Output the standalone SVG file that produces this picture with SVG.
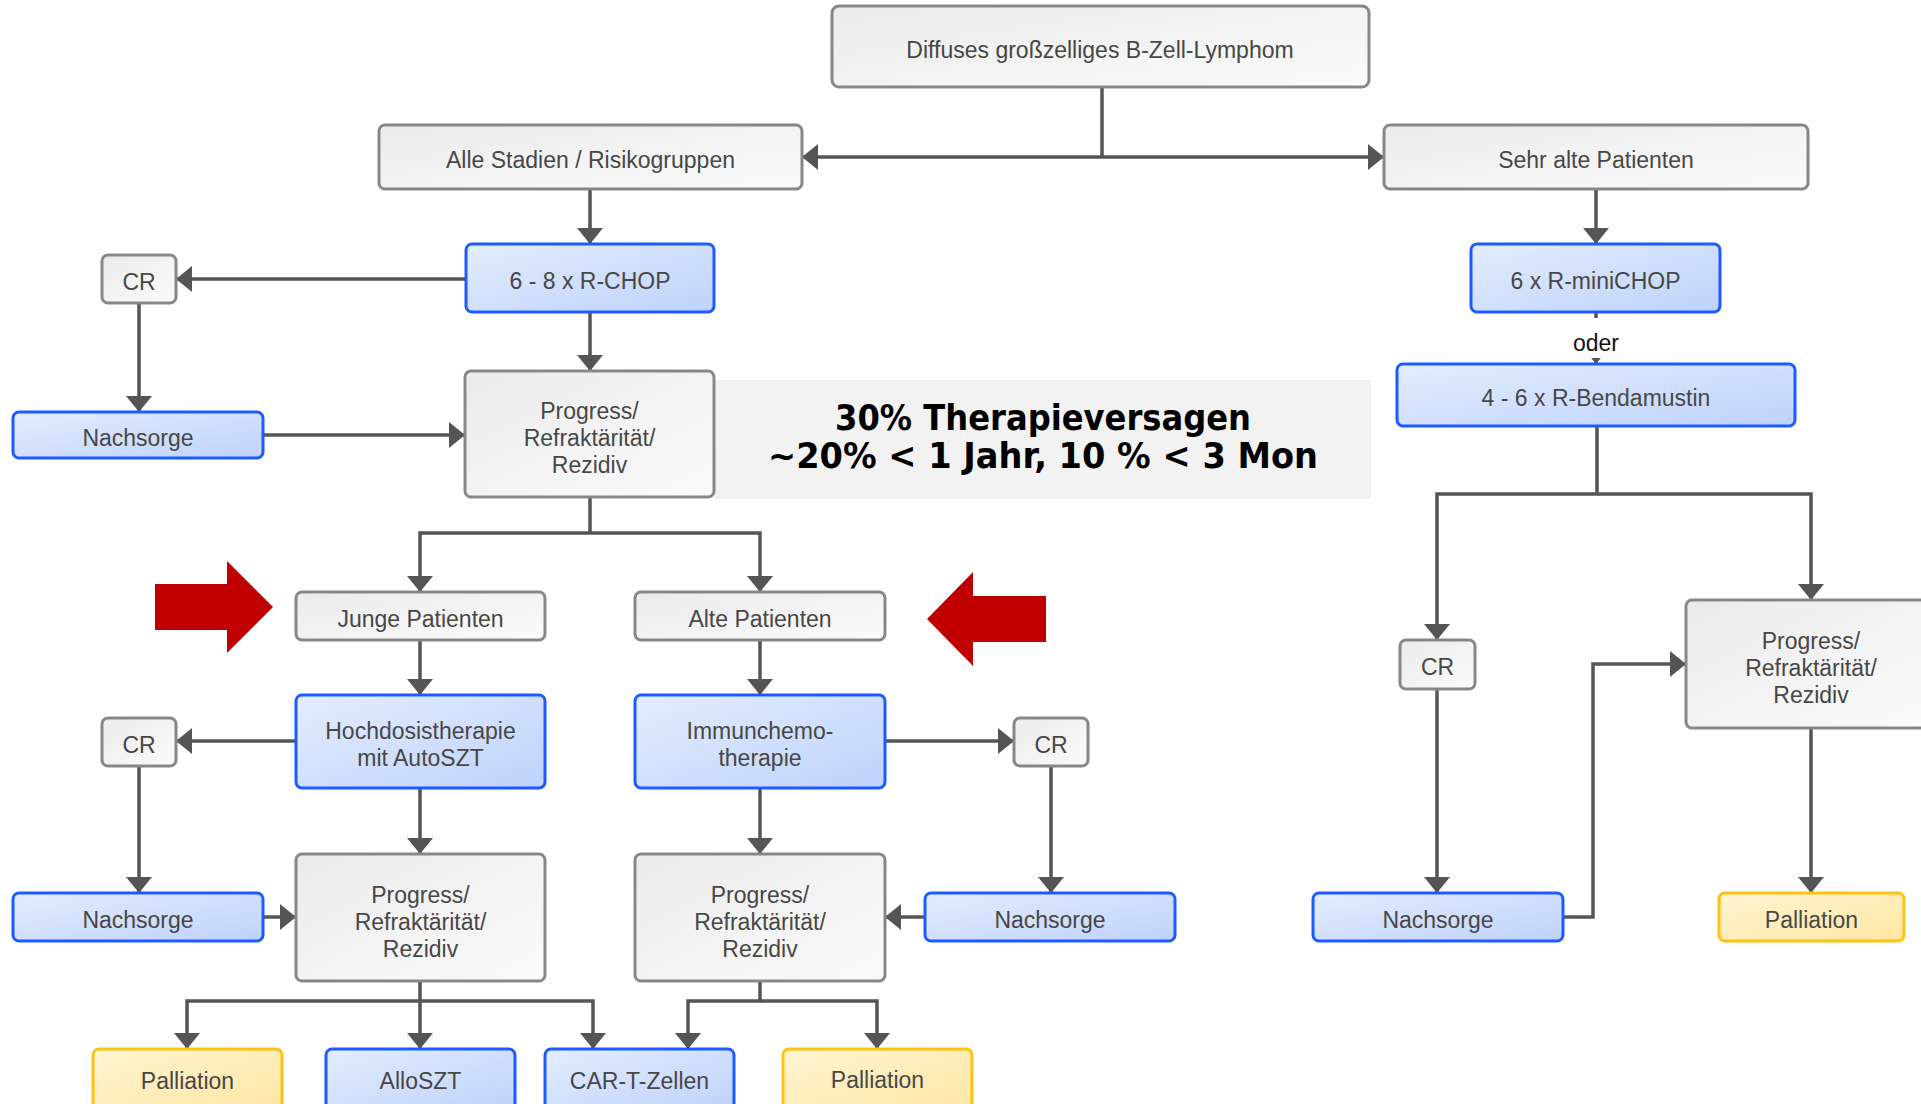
<svg xmlns="http://www.w3.org/2000/svg" width="1921" height="1104" viewBox="0 0 1921 1104">
<defs>
  <linearGradient id="fillGray" x1="0" y1="0" x2="1" y2="1">
    <stop offset="0" stop-color="#ebebeb"/>
    <stop offset="1" stop-color="#fbfbfb"/>
  </linearGradient>
  <linearGradient id="fillBlue" x1="0" y1="0" x2="1" y2="1">
    <stop offset="0" stop-color="#e4edff"/>
    <stop offset="1" stop-color="#bed2fa"/>
  </linearGradient>
  <linearGradient id="fillYellow" x1="0" y1="0" x2="1" y2="1">
    <stop offset="0" stop-color="#fff5d4"/>
    <stop offset="1" stop-color="#ffe6a2"/>
  </linearGradient>
  <marker id="arrow" markerUnits="userSpaceOnUse" markerWidth="16" markerHeight="26" viewBox="0 0 16 26" refX="16" refY="13" orient="auto">
    <path d="M0,0 L16,13 L0,26 z" fill="#555555"/>
  </marker>
  <style>
    .gray rect { fill: url(#fillGray); stroke: #878787; stroke-width: 3; }
    .blue rect { fill: url(#fillBlue); stroke: #1d5bff; stroke-width: 3; }
    .yellow rect { fill: url(#fillYellow); stroke: #ffc20e; stroke-width: 3; }
    .node text { font-family: "Liberation Sans", Arial, sans-serif; font-size: 23px; fill: #474747; text-anchor: middle; }
    #connectors path { fill: none; stroke: #555555; stroke-width: 3.5; }
    #connectors path.arr { marker-end: url(#arrow); }
    .oder { font-family: "Liberation Sans", Arial, sans-serif; font-size: 23px; fill: #111111; text-anchor: middle; }
    .note { font-family: "DejaVu Sans", Verdana, sans-serif; font-weight: bold; font-size: 36px; fill: #000000; text-anchor: middle; }
  </style>
</defs>

<rect width="1921" height="1104" fill="#ffffff"/>

<!-- failure-rate note beside the first relapse box -->
<g id="note">
  <rect x="714" y="380" width="657" height="119" fill="#f2f2f2"/>
  <text class="note" x="1043" y="430" textLength="416" lengthAdjust="spacingAndGlyphs">30% Therapieversagen</text>
  <text class="note" x="1043" y="468" textLength="550" lengthAdjust="spacingAndGlyphs">~20% &lt; 1 Jahr, 10 % &lt; 3 Mon</text>
</g>

<g id="connectors">
  <path d="M1102,87 V157"/>
  <path class="arr" d="M1102,157 H802"/>
  <path class="arr" d="M1102,157 H1384"/>
  <path class="arr" d="M590,189 V244"/>
  <path class="arr" d="M466,279 H176"/>
  <path class="arr" d="M139,303 V412"/>
  <path class="arr" d="M263,435 H465"/>
  <path class="arr" d="M590,312 V371"/>
  <path d="M590,497 V533"/>
  <path class="arr" d="M590,533 H420 V592"/>
  <path class="arr" d="M590,533 H760 V592"/>
  <path class="arr" d="M420,640 V695"/>
  <path class="arr" d="M760,640 V695"/>
  <path class="arr" d="M296,741 H176"/>
  <path class="arr" d="M139,766 V893"/>
  <path class="arr" d="M263,917 H296"/>
  <path class="arr" d="M420,788 V854"/>
  <path class="arr" d="M885,741 H1014"/>
  <path class="arr" d="M1051,766 V893"/>
  <path class="arr" d="M925,917 H885"/>
  <path class="arr" d="M760,788 V854"/>
  <path class="arr" d="M420,981 V1049"/>
  <path class="arr" d="M420,1001 H187 V1049"/>
  <path class="arr" d="M420,1001 H593 V1049"/>
  <path class="arr" d="M760,981 V1001 H688 V1049"/>
  <path class="arr" d="M760,1001 H877 V1049"/>
  <path class="arr" d="M1596,189 V244"/>
  <path class="arr" d="M1596,312 V364"/>
  <rect x="1570" y="318" width="52" height="40" fill="#ffffff"/>
  <text class="oder" x="1596" y="351">oder</text>
  <path class="arr" d="M1597,426 V494 H1437 V640"/>
  <path class="arr" d="M1597,494 H1811 V600"/>
  <path class="arr" d="M1437,689 V893"/>
  <path class="arr" d="M1563,917 H1593 V664 H1686"/>
  <path class="arr" d="M1811,728 V893"/>
</g>

<!-- red pointer arrows -->
<g id="highlights" fill="#c00000">
  <polygon points="155,584 227,584 227,561 273,607 227,653 227,630 155,630"/>
  <polygon points="1046,596 973,596 973,572 927,619 973,666 973,642 1046,642"/>
</g>

<g id="n-top" class="node gray">
  <rect x="832" y="6" width="537" height="81" rx="7"/>
  <text x="1100" y="58">Diffuses großzelliges B-Zell-Lymphom</text>
</g>
<g id="n-alle" class="node gray">
  <rect x="379" y="125" width="423" height="64" rx="6"/>
  <text x="590.5" y="168">Alle Stadien / Risikogruppen</text>
</g>
<g id="n-sehralt" class="node gray">
  <rect x="1384" y="125" width="424" height="64" rx="6"/>
  <text x="1596" y="168">Sehr alte Patienten</text>
</g>
<g id="n-rchop" class="node blue">
  <rect x="466" y="244" width="248" height="68" rx="6"/>
  <text x="590" y="289">6 - 8 x R-CHOP</text>
</g>
<g id="n-cr1" class="node gray">
  <rect x="102" y="255" width="74" height="48" rx="6"/>
  <text x="139" y="290">CR</text>
</g>
<g id="n-nachsorge1" class="node blue">
  <rect x="13" y="412" width="250" height="46" rx="6"/>
  <text x="138" y="446">Nachsorge</text>
</g>
<g id="n-progress1" class="node gray">
  <rect x="465" y="371" width="249" height="126" rx="6"/>
  <text x="589.5" y="419">Progress/</text>
  <text x="589.5" y="446">Refraktärität/</text>
  <text x="589.5" y="473">Rezidiv</text>
</g>
<g id="n-junge" class="node gray">
  <rect x="296" y="592" width="249" height="48" rx="6"/>
  <text x="420.5" y="627">Junge Patienten</text>
</g>
<g id="n-alte" class="node gray">
  <rect x="635" y="592" width="250" height="48" rx="6"/>
  <text x="760" y="627">Alte Patienten</text>
</g>
<g id="n-hochdosis" class="node blue">
  <rect x="296" y="695" width="249" height="93" rx="6"/>
  <text x="420.5" y="739">Hochdosistherapie</text>
  <text x="420.5" y="766">mit AutoSZT</text>
</g>
<g id="n-immunchemo" class="node blue">
  <rect x="635" y="695" width="250" height="93" rx="6"/>
  <text x="760" y="739">Immunchemo-</text>
  <text x="760" y="766">therapie</text>
</g>
<g id="n-cr2" class="node gray">
  <rect x="102" y="718" width="74" height="48" rx="6"/>
  <text x="139" y="753">CR</text>
</g>
<g id="n-cr3" class="node gray">
  <rect x="1014" y="718" width="74" height="48" rx="6"/>
  <text x="1051" y="753">CR</text>
</g>
<g id="n-nachsorge2" class="node blue">
  <rect x="13" y="893" width="250" height="48" rx="6"/>
  <text x="138" y="928">Nachsorge</text>
</g>
<g id="n-nachsorge3" class="node blue">
  <rect x="925" y="893" width="250" height="48" rx="6"/>
  <text x="1050" y="928">Nachsorge</text>
</g>
<g id="n-progress2" class="node gray">
  <rect x="296" y="854" width="249" height="127" rx="6"/>
  <text x="420.5" y="903">Progress/</text>
  <text x="420.5" y="930">Refraktärität/</text>
  <text x="420.5" y="957">Rezidiv</text>
</g>
<g id="n-progress3" class="node gray">
  <rect x="635" y="854" width="250" height="127" rx="6"/>
  <text x="760" y="903">Progress/</text>
  <text x="760" y="930">Refraktärität/</text>
  <text x="760" y="957">Rezidiv</text>
</g>
<g id="n-palliation1" class="node yellow">
  <rect x="93" y="1049" width="189" height="62" rx="6"/>
  <text x="187.5" y="1089">Palliation</text>
</g>
<g id="n-allo" class="node blue">
  <rect x="326" y="1049" width="189" height="62" rx="6"/>
  <text x="420.5" y="1089">AlloSZT</text>
</g>
<g id="n-cart" class="node blue">
  <rect x="545" y="1049" width="189" height="62" rx="6"/>
  <text x="639.5" y="1089">CAR-T-Zellen</text>
</g>
<g id="n-palliation2" class="node yellow">
  <rect x="783" y="1049" width="189" height="62" rx="6"/>
  <text x="877.5" y="1088">Palliation</text>
</g>
<g id="n-minichop" class="node blue">
  <rect x="1471" y="244" width="249" height="68" rx="6"/>
  <text x="1595.5" y="289">6 x R-miniCHOP</text>
</g>
<g id="n-bendamustin" class="node blue">
  <rect x="1397" y="364" width="398" height="62" rx="6"/>
  <text x="1596" y="406">4 - 6 x R-Bendamustin</text>
</g>
<g id="n-cr4" class="node gray">
  <rect x="1400" y="640" width="75" height="49" rx="6"/>
  <text x="1437.5" y="675">CR</text>
</g>
<g id="n-nachsorge4" class="node blue">
  <rect x="1313" y="893" width="250" height="48" rx="6"/>
  <text x="1438" y="928">Nachsorge</text>
</g>
<g id="n-progress4" class="node gray">
  <rect x="1686" y="600" width="250" height="128" rx="6"/>
  <text x="1811" y="649">Progress/</text>
  <text x="1811" y="676">Refraktärität/</text>
  <text x="1811" y="703">Rezidiv</text>
</g>
<g id="n-palliation3" class="node yellow">
  <rect x="1719" y="893" width="185" height="48" rx="6"/>
  <text x="1811.5" y="928">Palliation</text>
</g>
</svg>
